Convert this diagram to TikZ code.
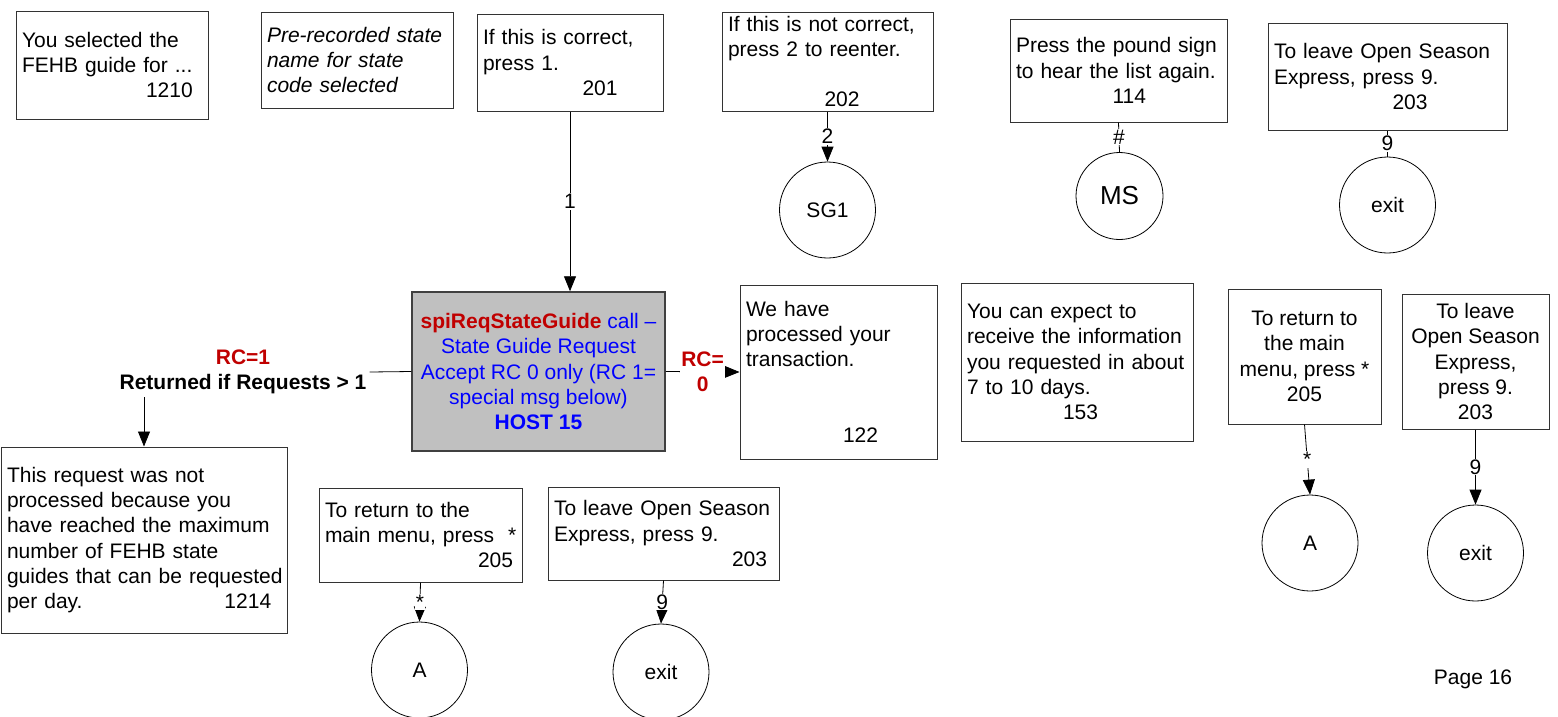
\documentclass[tikz,border=0pt]{standalone}
\usepackage{fontspec}
\setmainfont{Liberation Sans}
\usetikzlibrary{arrows.meta,positioning}
\definecolor{callgray}{RGB}{192,192,192}
\definecolor{rcred}{RGB}{192,0,0}
\definecolor{hostblue}{RGB}{0,0,255}

\begin{document}
\begin{tikzpicture}[
    x=1pt, y=-1pt,
    every node/.style={font=\fontsize{21}{25.3}\selectfont},
    prompt/.style={rectangle, draw=black!80, line width=1pt, align=left, inner xsep=6pt, inner ysep=1pt},
    menubox/.style={rectangle, draw=black!80, line width=1pt, align=center, inner sep=1pt},
    hostcall/.style={rectangle, draw=black!75, fill=callgray, line width=1.5pt, align=center, inner sep=1pt, text=hostblue},
    jump/.style={circle, draw, line width=0.8pt, minimum size=96pt, inner sep=0pt},
    flow/.style={line width=0.8pt, -{Triangle[length=15pt,width=12pt]}},
    digit/.style={fill=white, inner sep=1pt},
    rc/.style={text=rcred, font=\fontsize{21}{25.3}\selectfont\bfseries}
]
\useasboundingbox (0,0) rectangle (1558,716);

% Top row prompts
\node[prompt, text width=180pt, minimum height=108pt] (sel) at (112,65) {You selected the\\FEHB guide for ...\\\hspace*{124pt}1210};
\node[prompt, text width=180pt, minimum height=96pt, font=\fontsize{21}{25.3}\selectfont\itshape] (prerec) at (357,60) {Pre-recorded state\\name for state\\code selected};
\node[prompt, text width=174pt, minimum height=97pt] (correct) at (570,62.5) {If this is correct,\\press 1.\\\hspace*{99.5pt}201};
\node[prompt, text width=199pt, minimum height=99pt] (wrong) at (827.5,61.5) {If this is not correct,\\press 2 to reenter.\\[25.3pt]\hspace*{96.5pt}202};
\node[prompt, text width=205pt, minimum height=103pt] (pound) at (1118.5,70.5) {Press the pound sign\\to hear the list again.\\\hspace*{96.5pt}114};
\node[prompt, text width=227pt, minimum height=107pt] (leave) at (1387.5,76.5) {To leave Open Season\\Express, press 9.\\\hspace*{118.5pt}203};

% Host call
\node[hostcall, minimum width=253pt, minimum height=159pt] (call) at (538.5,371.5) {\textcolor{rcred}{\textbf{spiReqStateGuide}} call --\\State Guide Request\\Accept RC 0 only (RC 1=\\special msg below)\\\textbf{HOST 15}};

% Middle row prompts
\node[prompt, text width=185pt, minimum height=174pt] (done) at (838.5,372) {We have\\processed your\\transaction.\\[50.6pt]\hspace*{97pt}122};
\node[prompt, text width=220pt, minimum height=158pt] (expect) at (1077,362) {You can expect to\\receive the information\\you requested in about\\7 to 10 days.\\\hspace*{96pt}153};
\node[menubox, minimum width=153pt, minimum height=135pt] (back2) at (1304.5,356.5) {To return to\\the main\\menu, press *\\205};
\node[menubox, minimum width=147pt, minimum height=135pt] (quit2) at (1475.5,361.5) {To leave\\Open Season\\Express,\\press 9.\\203};

% RC=1 branch
\node[align=center, font=\fontsize{21}{25.3}\selectfont\bfseries, inner sep=3pt] (rcone) at (243,372) {\textcolor{rcred}{RC=1}\\Returned if Requests > 1};
\node[prompt, inner xsep=3pt, text width=280pt, minimum height=186pt] (limit) at (144,540) {\hspace*{3pt}This request was not\\\hspace*{3pt}processed because you\\\hspace*{3pt}have reached the maximum\\\hspace*{3pt}number of FEHB state\\\hspace*{3pt}guides that can be requested\\\hspace*{3pt}per day.\hspace{142pt}1214};

% Bottom prompts
\node[prompt, inner xsep=3pt, text width=197pt, minimum height=94pt] (back1) at (420.5,535) {\hspace*{3pt}To return to the\\\hspace*{3pt}main menu, press\ \ *\\\hspace*{156pt}205};
\node[prompt, text width=219pt, minimum height=93pt] (quit1) at (663.5,533.5) {To leave Open Season\\Express, press 9.\\\hspace*{178pt}203};

% Jump circles
\node[jump] (sgone) at (827.5,210) {SG1};
\node[jump, minimum size=87pt, font=\fontsize{26}{30}\selectfont] (ms) at (1119.5,196) {MS};
\node[jump] (exitone) at (1387.5,205) {exit};
\node[jump] (aone) at (419.5,670) {A};
\node[jump] (exittwo) at (661,672) {exit};
\node[jump] (atwo) at (1310,543) {A};
\node[jump] (exitthree) at (1475.5,553) {exit};

% Page number
\node (page) at (1473,679) {Page 16};

% Connectors
\draw[flow] (correct.south) -- node[digit] {1} (correct.south |- call.north);
\draw[flow] (wrong.south) -- node[digit] {2} (sgone.north);
\draw[line width=0.8pt] (pound.south) -- node[digit] {\#} (ms.north);
\draw[line width=0.8pt] (leave.south) -- node[digit] {9} (exitone.north);
\draw[line width=0.8pt] (call.west) -- (rcone.east);
\draw[flow] (rcone.south -| limit.north) -- (limit.north);
\draw[flow] (call.east) -- node[digit, rc, align=center] {RC=\\0} (done.west);
\draw[flow] (back2.south) -- node[digit] {*} (atwo.north);
\draw[flow] (quit2.south) -- node[digit] {9} (exitthree.north);
\draw[flow] (back1.south) -- node[digit] {*} (aone.north);
\draw[flow] (quit1.south) -- node[digit] {9} (exittwo.north);

\end{tikzpicture}
\end{document}
